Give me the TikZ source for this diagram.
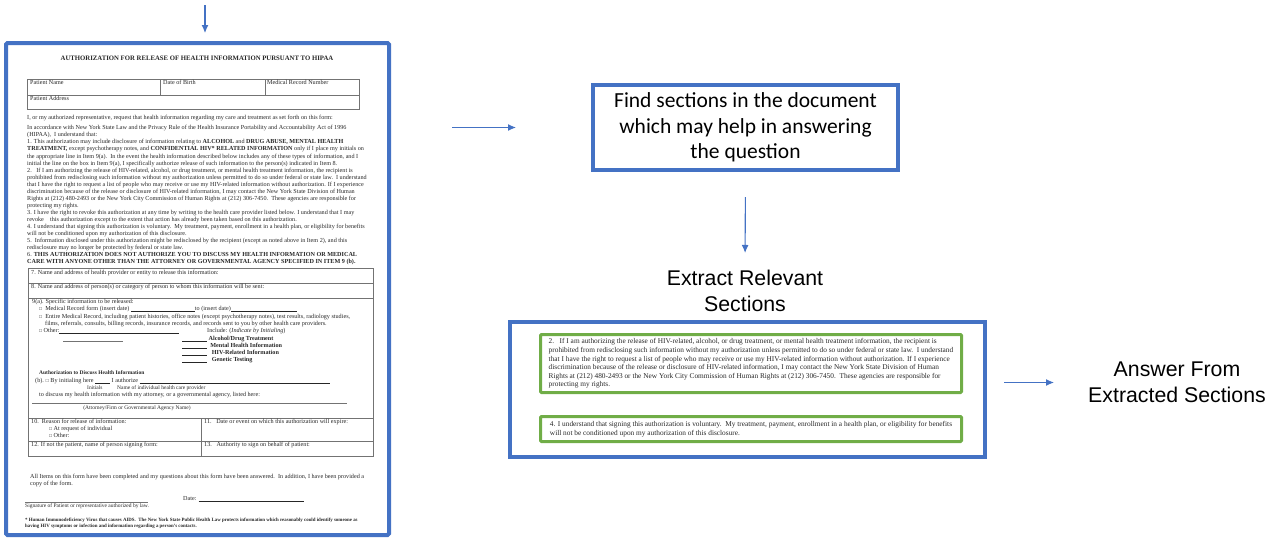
\documentclass[tikz,border=0pt]{standalone}
\usepackage{fontspec}
\setmainfont{Liberation Serif}
\newfontfamily\calfont{Carlito}
\newfontfamily\arialfont{Liberation Sans}
\usetikzlibrary{arrows.meta,positioning,calc}

\definecolor{boxblue}{HTML}{4472C4}
\definecolor{boxgreen}{HTML}{70AD47}
\newcommand{\docsize}{\fontsize{6.16}{7.05}\selectfont}
\newcommand{\titlesize}{\fontsize{6.75}{8}\selectfont}
\newcommand{\smallsize}{\fontsize{5.5}{6.5}\selectfont}
\newcommand{\notesize}{\fontsize{4.9}{6}\selectfont}
\newcommand{\secsize}{\fontsize{7.34}{8.6}\selectfont}
\newcommand{\blank}[1]{\rule[-0.6pt]{#1}{0.35pt}}
\newcommand{\cbox}{\raisebox{0.2pt}{\scalebox{0.8}{□}}}

\begin{document}
\begin{tikzpicture}[x=1pt,y=-1pt,
  doc/.style={inner sep=0pt, anchor=base west, text=black!85, font=\docsize},
  tbl/.style={draw=black!55, line width=0.5pt},
  bluebox/.style={draw=boxblue, line width=4pt, inner sep=0pt},
  greenbox/.style={draw=boxgreen, line width=3pt, rounded corners=1pt, inner sep=0pt, text=black!85, font=\secsize, align=left},
  flow/.style={boxblue, line width=1.1pt, -{Latex[length=8pt,width=7pt]}},
  steplabel/.style={inner sep=0pt, align=center, font=\arialfont\fontsize{21.3}{26}\selectfont}]
\useasboundingbox (0,0) rectangle (1281,539);

\node[bluebox, rounded corners=1.5pt, minimum width=383pt, minimum height=492pt] (doc) at (197.5,289) {};
\coordinate (topin) at (205,5);

\node[doc, anchor=center, font=\titlesize\bfseries] (title) at (197,58) {AUTHORIZATION FOR RELEASE OF HEALTH INFORMATION PURSUANT TO HIPAA};

\draw[tbl] (27,79) rectangle (359,109);
\draw[tbl] (27,95) -- (359,95);
\draw[tbl] (160,79) -- (160,95);
\draw[tbl] (265,79) -- (265,95);
\node[doc] (pname) at (30,84.5) {Patient Name};
\node[doc] (pbirth) at (163,84.5) {Date of Birth};
\node[doc] (precord) at (267,84.5) {Medical Record Number};
\node[doc] (paddress) at (30,100.5) {Patient Address};

\node[doc] (intro) at (27,119.5) {I, or my authorized representative, request that health information regarding my care and treatment as set forth on this form:};
\node[doc, anchor=north west, align=left] (items) at (27,125.3) {In accordance with New York State Law and the Privacy Rule of the Health Insurance Portability and Accountability Act of 1996\\
(HIPAA),\ \ I understand that:\\
1. This authorization may include disclosure of information relating to \textbf{ALCOHOL} and \textbf{DRUG ABUSE, MENTAL HEALTH}\\
\textbf{TREATMENT,} except psychotherapy notes, and \textbf{CONFIDENTIAL HIV* RELATED INFORMATION} only if I place my initials on\\
the appropriate line in Item 9(a).\ \ In the event the health information described below includes any of these types of information, and I\\
initial the line on the box in Item 9(a), I specifically authorize release of such information to the person(s) indicated in Item 8.\\
2.\ \ \ If I am authorizing the release of HIV-related, alcohol, or drug treatment, or mental health treatment information, the recipient is\\
prohibited from redisclosing such information without my authorization unless permitted to do so under federal or state law.\ \ I understand\\
that I have the right to request a list of people who may receive or use my HIV-related information without authorization. If I experience\\
discrimination because of the release or disclosure of HIV-related information, I may contact the New York State Division of Human\\
Rights at (212) 480-2493 or the New York City Commission of Human Rights at (212) 306-7450.\ \ These agencies are responsible for\\
protecting my rights.\\
3. I have the right to revoke this authorization at any time by writing to the health care provider listed below. I understand that I may\\
revoke\ \ \ \ this authorization except to the extent that action has already been taken based on this authorization.\\
4. I understand that signing this authorization is voluntary.\ \ My treatment, payment, enrollment in a health plan, or eligibility for benefits\\
will not be conditioned upon my authorization of this disclosure.\\
5.\ \ Information disclosed under this authorization might be redisclosed by the recipient (except as noted above in Item 2), and this\\
redisclosure may no longer be protected by federal or state law.\\
6. \textbf{THIS AUTHORIZATION DOES NOT AUTHORIZE YOU TO DISCUSS MY HEALTH INFORMATION OR MEDICAL}\\
\textbf{CARE WITH ANYONE OTHER THAN THE ATTORNEY OR GOVERNMENTAL AGENCY SPECIFIED IN ITEM 9 (b).}};

\draw[tbl] (28,268) rectangle (373,456);
\draw[tbl] (28,283) -- (373,283);
\draw[tbl] (28,298) -- (373,298);
\draw[tbl] (28,418) -- (373,418);
\draw[tbl] (28,441) -- (373,441);
\draw[tbl] (201,418) -- (201,456);
\node[doc] (item7) at (31,274.5) {7. Name and address of health provider or entity to release this information:};
\node[doc] (item8) at (31,288.5) {8. Name and address of person(s) or category of person to whom this information will be sent:};
\node[doc] (item9) at (32,303.5) {9(a). Specific information to be released:};
\node[doc] (medrec) at (39,310.5) {\cbox\ \ Medical Record form (insert date) \blank{64pt}to (insert date)\blank{66pt}};
\node[doc] (entire) at (39,318.5) {\cbox\ \ Entire Medical Record, including patient histories, office notes (except psychotherapy notes), test results, radiology studies,};
\node[doc] (films) at (45,325.5) {films, referrals, consults, billing records, insurance records, and records sent to you by other health care providers.};
\node[doc] (other) at (39,332.5) {\cbox\ Other:\blank{120pt}};
\node[doc] (include) at (207,332.5) {Include: (\textit{Indicate by Initialing})};
\draw[tbl] (63,341) -- (123,341);
\node[doc] (alcohol) at (182,340.5) {\blank{25pt} \textbf{Alcohol/Drug Treatment}};
\node[doc] (mental) at (182,347.5) {\blank{25pt}\ \ \textbf{Mental Health Information}};
\node[doc] (hiv) at (182,354.5) {\blank{25pt}\ \ \ \textbf{HIV-Related Information}};
\node[doc] (genetic) at (182,361.5) {\blank{25pt}\ \ \ \textbf{Genetic Testing}};
\node[doc, font=\smallsize\bfseries] (discuss) at (39,374.5) {Authorization to Discuss Health Information};
\node[doc] (initial) at (35,382.5) {(b). \cbox\ By initialing here \blank{15pt} I authorize \blank{190pt}};
\node[doc, font=\smallsize] (initials) at (87,389.5) {Initials};
\node[doc, font=\smallsize] (provider) at (117,389.5) {Name of individual health care provider};
\node[doc] (attorney) at (39,396.5) {to discuss my health information with my attorney, or a governmental agency, listed here:};
\draw[tbl] (32,403) -- (347,403);
\node[doc, anchor=base, font=\smallsize] (agency) at (137,409.5) {(Attorney/Firm or Governmental Agency Name)};
\node[doc] (item10) at (31,423.5) {10.\ \ Reason for release of information:};
\node[doc] (request) at (49,430.5) {\cbox\ At request of individual};
\node[doc] (other2) at (49,437.5) {\cbox\ Other:};
\node[doc] (item11) at (204,423.5) {11.\ \ \ Date or event on which this authorization will expire:};
\node[doc] (item12) at (31,446) {12. If not the patient, name of person signing form:};
\node[doc] (item13) at (204,446) {13.\ \ \ Authority to sign on behalf of patient:};

\node[doc] (allitems) at (30,478.5) {All Items on this form have been completed and my questions about this form have been answered.\ \ In addition, I have been provided a};
\node[doc] (copy) at (30,485.5) {copy of the form.};
\draw[tbl] (25,502) -- (148,502);
\node[doc] (date) at (183,500.5) {Date: \blank{105pt}};
\node[doc, font=\smallsize] (signature) at (25,507.5) {Signature of Patient or representative authorized by law.};
\node[doc, anchor=north west, align=left, font=\notesize\bfseries] (footnote) at (25,518) {* Human Immunodeficiency Virus that causes AIDS.\ \ The New York State Public Health Law protects information which reasonably could identify someone as\\
having HIV symptoms or infection and information regarding a person's contacts.};

\node[bluebox, minimum width=305pt, minimum height=85pt, align=center, font=\calfont\fontsize{21.5}{25.5}\selectfont] (find) at (745.5,127.5) {Find sections in the document\\ which may help in answering\\ the question};
\node[steplabel] (extract) at (745,291) {Extract Relevant\\ Sections};

\node[bluebox, anchor=north west, minimum width=475pt, minimum height=135pt] (secbox) at (508,320) {};
\node[greenbox, anchor=north west, minimum width=421pt, minimum height=58pt] (sec2) at (539,333) {2.\ \ \ If I am authorizing the release of HIV-related, alcohol, or drug treatment, or mental health treatment information, the recipient is\\
prohibited from redisclosing such information without my authorization unless permitted to do so under federal or state law.\ \ I understand\\
that I have the right to request a list of people who may receive or use my HIV-related information without authorization. If I experience\\
discrimination because of the release or disclosure of HIV-related information, I may contact the New York State Division of Human\\
Rights at (212) 480-2493 or the New York City Commission of Human Rights at (212) 306-7450.\ \ These agencies are responsible for\\
protecting my rights.};
\node[greenbox, anchor=north west, minimum width=421pt, minimum height=25pt] (sec4) at (539,415) {4. I understand that signing this authorization is voluntary.\ \ My treatment, payment, enrollment in a health plan, or eligibility for benefits\\
will not be conditioned upon my authorization of this disclosure.};

\node[steplabel] (answer) at (1177,382.5) {Answer From\\ Extracted Sections};

\draw[flow, shorten >=8pt] (topin) -- (topin |- doc.north);
\draw[flow, shorten <=61pt, shorten >=75pt] (doc.east |- find.west) -- (find.west);
\draw[flow, shorten <=25pt, shorten >=17pt] (find.south) -- (extract.north);
\draw[flow, shorten <=17pt, shorten >=34pt] (secbox.east |- answer.west) -- (answer.west);

\end{tikzpicture}
\end{document}
